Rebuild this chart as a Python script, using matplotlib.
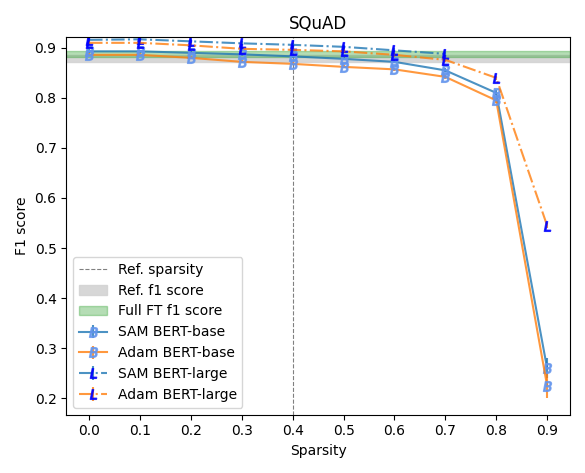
import numpy as np
import matplotlib.pyplot as plt

sparsity = [0.0, 0.1, 0.2, 0.3, 0.4, 0.5, 0.6, 0.7, 0.8, 0.9]
sam_base = [0.893, 0.893, 0.890, 0.887, 0.883, 0.878, 0.872, 0.855, 0.810, 0.260]
adam_base = [0.886, 0.886, 0.880, 0.872, 0.868, 0.862, 0.857, 0.842, 0.795, 0.225]
sam_large = [0.916, 0.917, 0.913, 0.909, 0.906, 0.902, 0.895, 0.888]
adam_large = [0.910, 0.910, 0.905, 0.898, 0.896, 0.893, 0.886, 0.876, 0.840, 0.545]
sam_base_err = [0.004, 0.003, 0.003, 0.003, 0.003, 0.003, 0.003, 0.004, 0.005, 0.02]
adam_base_err = [0.003, 0.003, 0.003, 0.003, 0.003, 0.003, 0.003, 0.004, 0.005, 0.025]
sam_large_err = [0.004, 0.004, 0.004, 0.004, 0.004, 0.004, 0.004, 0.004]
adam_large_err = [0.004, 0.004, 0.004, 0.004, 0.004, 0.004, 0.004, 0.004, 0.004, 0.005]

ref_f1 = (0.872, 0.885)
full_ft_f1 = (0.882, 0.893)

fig, ax = plt.subplots(figsize=(5.85, 4.73), dpi=100)
ax.axvline(0.4, color='gray', linestyle='--', linewidth=0.8, label='Ref. sparsity')
ax.axhspan(*ref_f1, color='lightgray', alpha=0.9, label='Ref. f1 score')
ax.axhspan(*full_ft_f1, color='tab:green', alpha=0.35, label='Full FT f1 score')

ax.errorbar(sparsity, sam_base, yerr=sam_base_err, color='tab:blue', alpha=0.8,
            marker='$B$', markersize=7, mfc='cornflowerblue', mec='cornflowerblue',
            label='SAM BERT-base')
ax.errorbar(sparsity, adam_base, yerr=adam_base_err, color='tab:orange', alpha=0.8,
            marker='$B$', markersize=7, mfc='cornflowerblue', mec='cornflowerblue',
            label='Adam BERT-base')
ax.errorbar(sparsity[:len(sam_large)], sam_large, yerr=sam_large_err, color='tab:blue',
            alpha=0.8, linestyle='-.', marker='$L$', markersize=7, mfc='blue', mec='blue',
            label='SAM BERT-large')
ax.errorbar(sparsity, adam_large, yerr=adam_large_err, color='tab:orange', alpha=0.8,
            linestyle='-.', marker='$L$', markersize=7, mfc='blue', mec='blue',
            label='Adam BERT-large')

ax.set_xticks(sparsity)
ax.set_xlabel('Sparsity')
ax.set_ylabel('F1 score')
ax.set_title('SQuAD')
ax.set_ylim(0.167, 0.921)
ax.legend(loc='lower left')
fig.tight_layout()
fig.savefig('out.png')
